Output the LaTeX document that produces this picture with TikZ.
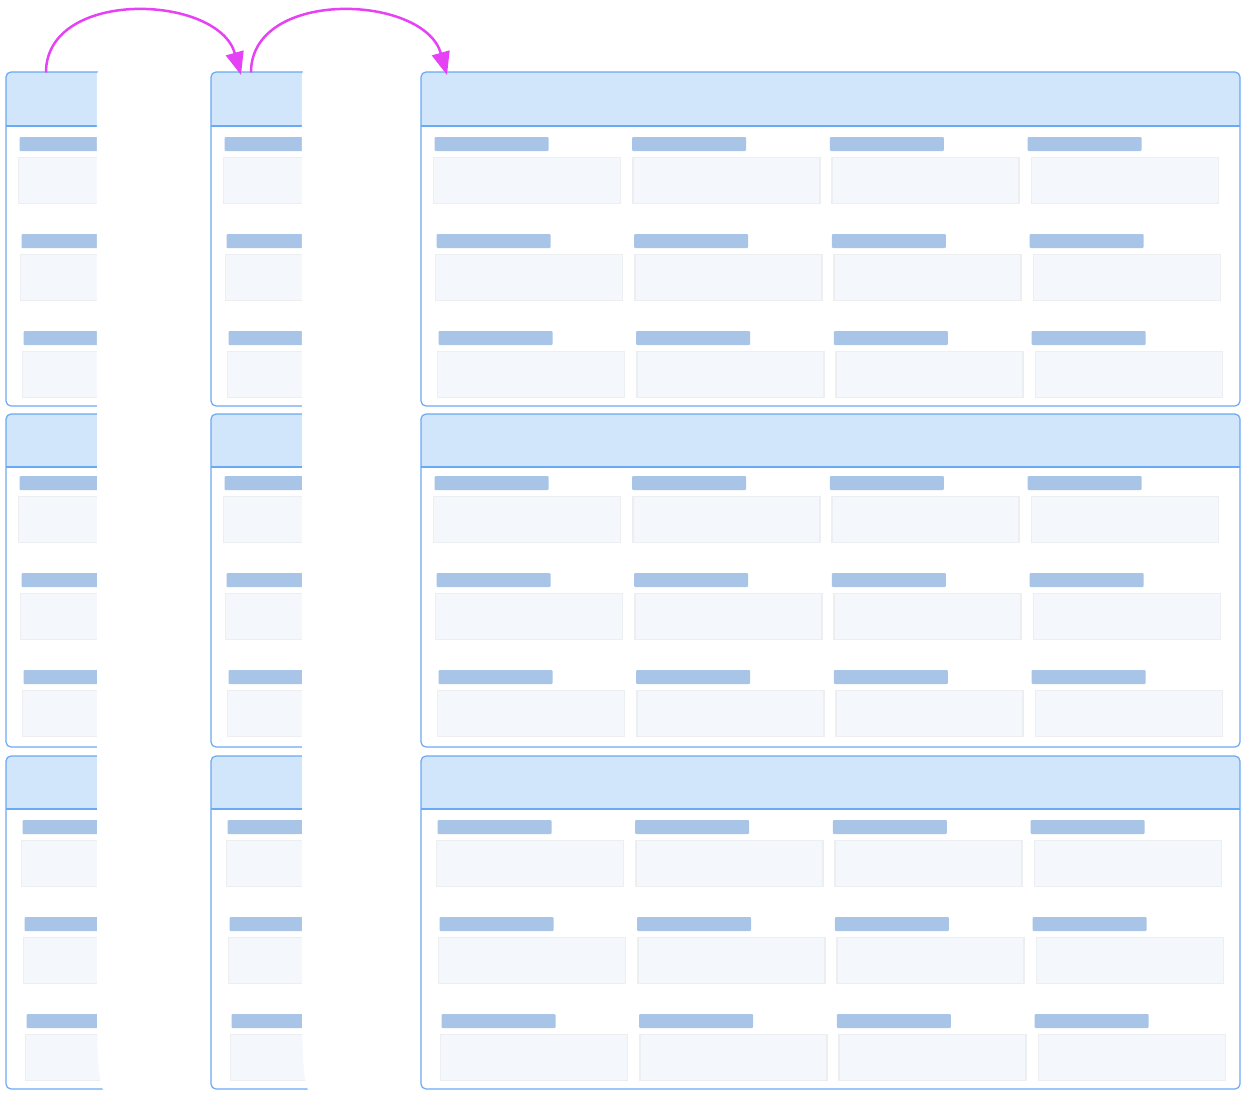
\documentclass[tikz,border=0pt]{standalone}
\usetikzlibrary{arrows.meta}
\definecolor{hdr}{HTML}{D1E5FB}
\definecolor{bord}{HTML}{6AA9F3}
\definecolor{lbl}{HTML}{A8C5E7}
\definecolor{boxf}{HTML}{F4F8FC}
\definecolor{boxd}{HTML}{ECEEF0}
\definecolor{arr}{HTML}{E642F5}
\tikzset{
  panelborder/.style={draw=bord,line width=1.2pt,rounded corners=5pt},
  lblbar/.style={fill=lbl,rounded corners=1pt},
  inbox/.style={fill=boxf,draw=boxd,line width=1.4pt},
  flowarrow/.style={draw=arr,line width=2.5pt,-{Triangle[length=23pt,width=18pt]}},
  maskshape/.style={fill=white}
}
\begin{document}
\begin{tikzpicture}[x=1pt,y=-1pt]
\useasboundingbox (0,0) rectangle (1250,1100);
% panels: left x, width, number of columns
\foreach \L/\W/\nc/\bw in {6/190/1/150, 211/190/1/150, 421/819/4/187}{
  \foreach \T/\H/\hh/\ly/\sx in {72/334/54/137/0, 414/333/53/476/0, 756/333/53/820/3}{
    \fill[white,rounded corners=5pt] (\L,\T) rectangle ({\L+\W},{\T+\H});
    \begin{scope}
      \clip (\L-3,\T-3) rectangle ({\L+\W+3},{\T+\hh});
      \fill[hdr,rounded corners=5pt] (\L,\T) rectangle ({\L+\W},{\T+\H});
    \end{scope}
    \draw[bord,line width=1.2pt] (\L,{\T+\hh}) -- ({\L+\W},{\T+\hh});
    \draw[panelborder] (\L,\T) rectangle ({\L+\W},{\T+\H});
    \foreach \r in {0,1,2}{
      \foreach \c in {1,...,\nc}{
        \pgfmathsetmacro{\lx}{\L+(\c-1)*197.7+2*\r+\sx}
        \pgfmathsetmacro{\bx}{\L+(\c-1)*199.3+2*\r+\sx}
        \pgfmathsetmacro{\yy}{\ly+97*\r}
        \fill[lblbar] ({\lx+13.5},\yy) rectangle ({\lx+13.5+114},{\yy+14});
        \draw[inbox] ({\bx+12.5},{\yy+20.5}) rectangle ({\bx+12.5+\bw},{\yy+66.5});
      }
    }
  }
}
% white masks
\foreach \dx in {0,205}{
  \fill[maskshape] ({98.5+\dx},70.5) .. controls ({97.3+\dx},72) and ({96.9+\dx},74) .. ({96.9+\dx},78)
    -- ({97.2+\dx},1030)
    .. controls ({97.8+\dx},1070) and ({100+\dx},1086) .. ({104.5+\dx},1093)
    -- ({206+\dx},1093) -- ({206+\dx},70.5) -- cycle;
}
% arrow endpoints
\coordinate (s1) at (46,72.5);
\coordinate (e1) at (241,75);
\coordinate (s2) at (251,72.5);
\coordinate (e2) at (447,75);
\draw[flowarrow] (s1) .. controls (46,-12) and (218,-6) .. (e1);
\draw[flowarrow] (s2) .. controls (251,-12) and (424,-6) .. (e2);
\end{tikzpicture}
\end{document}
